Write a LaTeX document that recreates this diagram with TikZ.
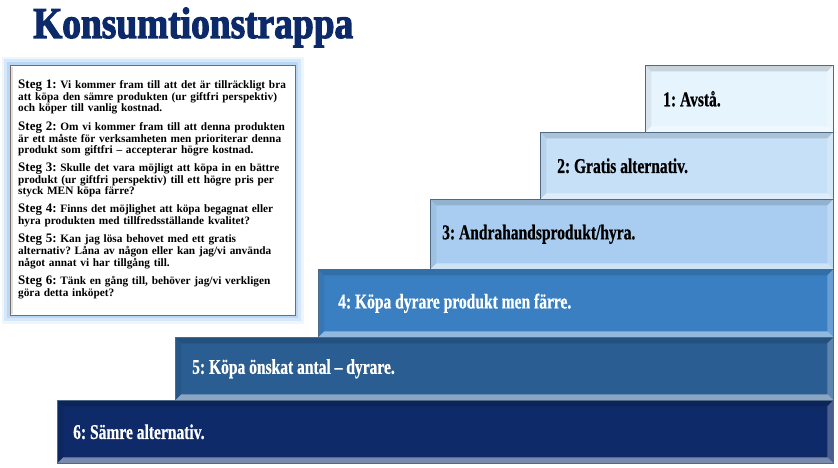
\documentclass[tikz,border=0pt]{standalone}
\usepackage{fontspec}
\setmainfont{Liberation Serif}
\newfontfamily\stairfont[FakeStretch=0.74,FakeBold=0.6,Ligatures=TeX]{Liberation Serif}
\newfontfamily\headfont[FakeStretch=0.85,FakeBold=2.5]{Liberation Serif}
\usetikzlibrary{positioning}
\frenchspacing

\definecolor{headblue}{HTML}{0C2A6A}
\definecolor{stairline}{HTML}{4F6A86}
\definecolor{stepA}{HTML}{E6F4FD}
\definecolor{stepB}{HTML}{C6E0F7}
\definecolor{stepC}{HTML}{A8CDF0}
\definecolor{stepD}{HTML}{3A7FC2}
\definecolor{stepE}{HTML}{2A5D91}
\definecolor{stepF}{HTML}{0E2A68}
\definecolor{glowblue}{HTML}{9CC8F2}
\definecolor{boxline}{HTML}{7A6A64}

\newcommand{\stegnr}[1]{{\fontsize{13}{9.5}\selectfont Steg #1:}}
\def\ppb{path picture bounding box}

\tikzset{
  bevel/.style={path picture={
    \fill[black, opacity=0.13] (\ppb.north west) -- (\ppb.north east)
      -- ([shift={(-6pt,-6pt)}]\ppb.north east) -- ([shift={(6pt,-6pt)}]\ppb.north west) -- cycle;
    \fill[black, opacity=0.06] (\ppb.north west) -- (\ppb.south west)
      -- ([shift={(6pt,6pt)}]\ppb.south west) -- ([shift={(6pt,-6pt)}]\ppb.north west) -- cycle;
    \fill[white, opacity=0.45] (\ppb.south west) -- (\ppb.south east)
      -- ([shift={(-6pt,6pt)}]\ppb.south east) -- ([shift={(6pt,6pt)}]\ppb.south west) -- cycle;
    \fill[white, opacity=0.25] (\ppb.south east) -- (\ppb.north east)
      -- ([shift={(-6pt,-6pt)}]\ppb.north east) -- ([shift={(-6pt,6pt)}]\ppb.south east) -- cycle;
  }},
  stair/.style={draw=stairline, line width=0.6pt, anchor=north west, inner sep=0pt, bevel},
  stairtext/.style={font=\stairfont\bfseries\fontsize{21}{21}\selectfont, inner sep=0pt, anchor=west},
}

\begin{document}
\begin{tikzpicture}[x=1pt, y=-1pt]
  \useasboundingbox (0,0) rectangle (838,468);

  % rubrik
  \node[anchor=base west, inner sep=0pt, text=headblue,
        font=\headfont\bfseries\fontsize{44}{44}\selectfont] (title) at (33,38) {Konsumtionstrappa};

  % trappstegen
  \node[stair, fill=stepA, minimum width=188pt, minimum height=67pt] (s1) at (645,65) {};
  \node[stair, fill=stepB, minimum width=293pt, minimum height=67pt] (s2) at (540,132) {};
  \node[stair, fill=stepC, minimum width=403pt, minimum height=70pt] (s3) at (430,199) {};
  \node[stair, fill=stepD, minimum width=515pt, minimum height=68pt] (s4) at (318,269) {};
  \node[stair, fill=stepE, minimum width=658pt, minimum height=63pt] (s5) at (175,337) {};
  \node[stair, fill=stepF, minimum width=776pt, minimum height=63pt] (s6) at (57,400) {};

  \node[stairtext, right=18pt of s1.west] (t1) {1: Avstå.};
  \node[stairtext, right=17pt of s2.west] (t2) {2: Gratis alternativ.};
  \node[stairtext, right=12pt of s3.west] (t3) {3: Andrahandsprodukt/hyra.};
  \node[stairtext, right=20pt of s4.west, text=white] (t4) {4: Köpa dyrare produkt men färre.};
  \node[stairtext, right=17pt of s5.west, text=white] (t5) {5: Köpa önskat antal – dyrare.};
  \node[stairtext, right=16pt of s6.west, text=white] (t6) {6: Sämre alternativ.};

  % rutan med stegen
  \node[anchor=north west, fill=white, draw=boxline, line width=0.8pt,
        minimum width=285pt, minimum height=250pt,
        preaction={draw=glowblue, line width=17pt, opacity=0.18},
        preaction={draw=glowblue, line width=12pt, opacity=0.3},
        preaction={draw=glowblue, line width=6pt, opacity=0.5}] (info) at (10,65) {};
  \draw[black!12, line width=2pt] ([shift={(2pt,-2pt)}]info.north west) -- ([shift={(2pt,2pt)}]info.south west);
  \node[anchor=north west, inner sep=0pt, text width=276pt, align=left,
        font=\bfseries\fontsize{11.3}{9.5}\selectfont] (steglist) at (18,80) {%
    \stegnr{1} Vi kommer fram till att det är tillräckligt bra\\
    att köpa den sämre produkten (ur giftfri perspektiv)\\
    och köper till vanlig kostnad.\\[6pt]
    \stegnr{2} Om vi kommer fram till att denna produkten\\
    är ett måste för verksamheten men prioriterar denna\\
    produkt som giftfri – accepterar högre kostnad.\\[6pt]
    \stegnr{3} Skulle det vara möjligt att köpa in en bättre\\
    produkt (ur giftfri perspektiv) till ett högre pris per\\
    styck MEN köpa färre?\\[6pt]
    \stegnr{4} Finns det möjlighet att köpa begagnat eller\\
    hyra produkten med tillfredsställande kvalitet?\\[6pt]
    \stegnr{5} Kan jag lösa behovet med ett gratis\\
    alternativ? Låna av någon eller kan jag/vi använda\\
    något annat vi har tillgång till.\\[6pt]
    \stegnr{6} Tänk en gång till, behöver jag/vi verkligen\\
    göra detta inköpet?};
\end{tikzpicture}
\end{document}
